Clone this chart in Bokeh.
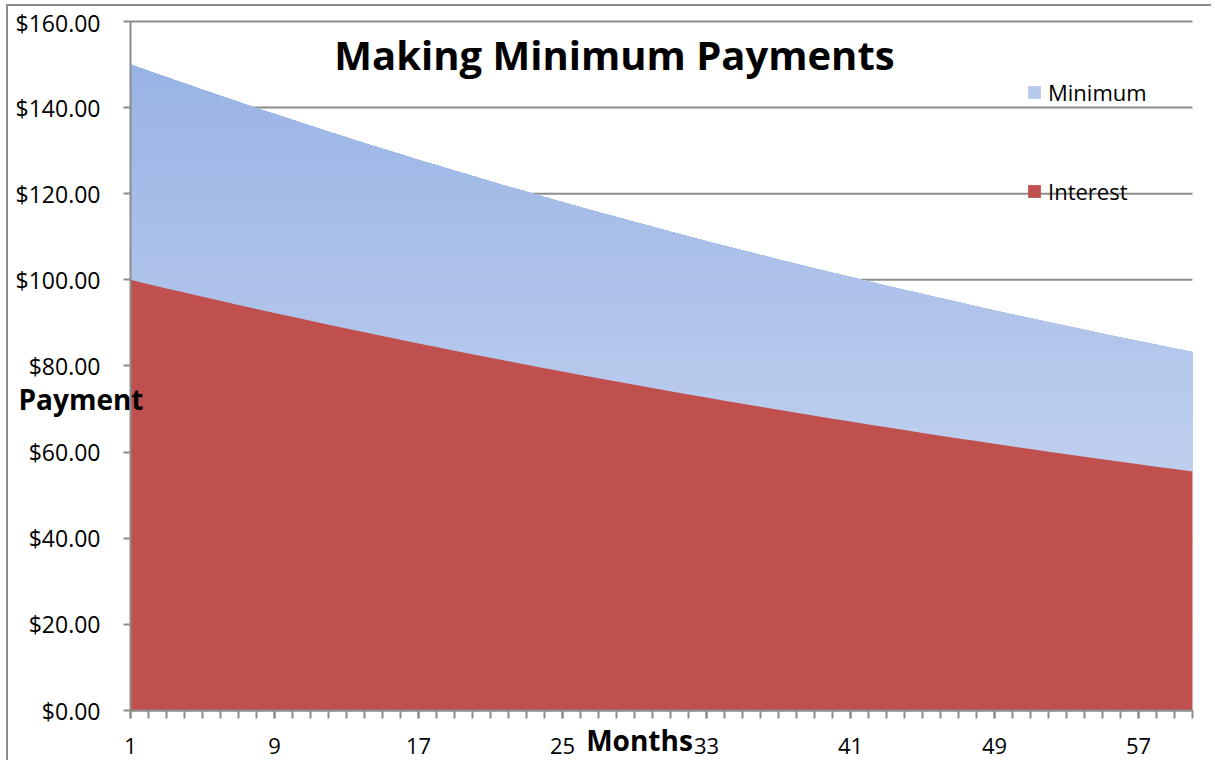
import numpy as np
from bokeh.plotting import figure
from bokeh.models import (Range1d, FixedTicker, NumeralTickFormatter, Label,
                          Legend, LegendItem)
from bokeh.embed import file_html
from bokeh.resources import INLINE

# ---------------- data ----------------
months = list(range(1, 61))

interest = [
    100.00, 99.01, 98.02, 97.05, 96.09, 95.13, 94.19, 93.25, 92.33, 91.41, 90.50,
    89.60, 88.71, 87.83, 86.96, 86.10, 85.24, 84.40, 83.56, 82.73, 81.91,
    81.10, 80.29, 79.49, 78.70, 77.92, 77.15, 76.38, 75.62, 74.87, 74.13,
    73.39, 72.66, 71.94, 71.23, 70.52, 69.82, 69.13, 68.44, 67.76, 67.09,
    66.42, 65.76, 65.11, 64.46, 63.82, 63.19, 62.56, 61.94, 61.32, 60.72,
    60.11, 59.52, 58.93, 58.34, 57.76, 57.19, 56.62, 56.06, 55.50,
]

minimum = [
    150.00, 148.51, 147.03, 145.58, 144.14, 142.70, 141.29, 139.88, 138.50, 137.12, 135.75,
    134.40, 133.07, 131.75, 130.44, 129.15, 127.86, 126.60, 125.34, 124.10, 122.87,
    121.65, 120.44, 119.24, 118.05, 116.88, 115.73, 114.57, 113.43, 112.31, 111.20,
    110.09, 108.99, 107.91, 106.85, 105.78, 104.73, 103.70, 102.66, 101.64, 100.64,
    99.63, 98.64, 97.67, 96.69, 95.73, 94.79, 93.84, 92.91, 91.98, 91.08,
    90.17, 89.28, 88.40, 87.51, 86.64, 85.79, 84.93, 84.09, 83.25,
]

y_tick_values = [0, 20, 40, 60, 80, 100, 120, 140, 160]
x_tick_values = [1, 9, 17, 25, 33, 41, 49, 57]

series_names = ["Minimum", "Interest"]
title_text = "Making Minimum Payments"
y_title = "Payment"
x_title = "Months"

# ---------------- figure ----------------
FONT = "Open Sans"
GRAY = "#8c8c8c"

# The frame covers the whole canvas; the axes sit at fixed data locations
# inside it, so that the titles may overlap the axes as in the reference.
p = figure(width=1205, height=756, output_backend="svg", toolbar_location=None,
           x_range=Range1d(-5.7778, 61.1667), y_range=Range1d(-12.075, 163.48),
           min_border_left=0, min_border_right=0,
           min_border_top=0, min_border_bottom=0)
# outer chart border (left and top edges)
p.styles = {"margin-left": "6px",
            "margin-top": "4px",
            "border-left": "2px solid " + GRAY,
            "border-top": "2px solid " + GRAY}
p.outline_line_color = None
p.background_fill_color = "white"
p.border_fill_color = "white"

x = np.array(months, dtype=float)
lo = np.array(interest, dtype=float)
hi = np.array(minimum, dtype=float)

# horizontal gridlines spanning the category range
p.xgrid.visible = False
p.ygrid.visible = False
p.segment(x0=[months[0]] * len(y_tick_values), x1=[months[-1]] * len(y_tick_values),
          y0=y_tick_values, y1=y_tick_values, line_color=GRAY, line_width=2)

# gradient fill for the Minimum area (darker at top, lighter at bottom)
top_rgb = (152, 179, 228)
bot_rgb = (214, 224, 245)
n_bands = 48
top_val = hi.max()
step = top_val / n_bands
band_renderers = []
for k in range(n_bands):
    a = k * step
    t = (a + step / 2) / top_val
    c = tuple(int(round(b + (tp - b) * t)) for b, tp in zip(bot_rgb, top_rgb))
    color = "#%02x%02x%02x" % c
    y1 = np.minimum(np.maximum(lo, a), hi)
    r = p.varea(x=x, y1=y1, y2=hi, fill_color=color)
    band_renderers.append(r)

red = p.varea(x=x, y1=np.zeros_like(lo), y2=lo, fill_color="#C0504D")

# ---------------- axes ----------------
ya = p.yaxis[0]
ya.fixed_location = months[0]
ya.bounds = (y_tick_values[0], y_tick_values[-1])
ya.ticker = FixedTicker(ticks=y_tick_values, minor_ticks=[])
ya.formatter = NumeralTickFormatter(format="$0.00")
ya.major_label_text_font = FONT
ya.major_label_text_font_size = "23px"
ya.major_label_text_color = "black"
ya.major_tick_out = 7
ya.major_tick_in = 0
ya.minor_tick_out = 0
ya.minor_tick_in = 0
ya.axis_line_color = GRAY
ya.axis_line_width = 2
ya.major_tick_line_color = GRAY
ya.major_tick_line_width = 2
ya.major_label_standoff = 23

xa = p.xaxis[0]
xa.fixed_location = y_tick_values[0]
xa.bounds = (months[0], months[-1])
xa.ticker = FixedTicker(ticks=x_tick_values, minor_ticks=months)
xa.major_label_text_font = FONT
xa.major_label_text_font_size = "22px"
xa.major_label_text_color = "black"
xa.major_tick_out = 8
xa.major_tick_in = 0
xa.minor_tick_out = 8
xa.minor_tick_in = 0
xa.axis_line_color = GRAY
xa.axis_line_width = 2
xa.major_tick_line_color = GRAY
xa.major_tick_line_width = 2
xa.minor_tick_line_color = GRAY
xa.minor_tick_line_width = 2
xa.major_label_standoff = 19

# ---------------- legend ----------------
legend = Legend(items=[LegendItem(label=series_names[0], renderers=[band_renderers[n_bands // 2]]),
                       LegendItem(label=series_names[1], renderers=[red])],
                location=(1018, 556), orientation="vertical",
                glyph_width=16, glyph_height=16, label_height=16, spacing=69,
                padding=0, margin=0, label_standoff=6,
                background_fill_alpha=0, border_line_alpha=0,
                label_text_font=FONT, label_text_font_size="22px",
                label_text_color="black")
p.add_layout(legend)

# ---------------- titles ----------------
p.add_layout(Label(x=606, y=708, x_units="screen", y_units="screen", text=title_text,
                   text_align="center", text_baseline="alphabetic",
                   text_font=FONT, text_font_size="40px", text_font_style="bold",
                   text_color="black"))
p.add_layout(Label(x=10, y=364, x_units="screen", y_units="screen", text=y_title,
                   text_align="left", text_baseline="alphabetic",
                   text_font=FONT, text_font_size="28px", text_font_style="bold",
                   text_color="black"))
p.add_layout(Label(x=631, y=23, x_units="screen", y_units="screen", text=x_title,
                   text_align="center", text_baseline="alphabetic",
                   text_font=FONT, text_font_size="28px", text_font_style="bold",
                   text_color="black"))

open("out.html", "w").write(file_html(p, INLINE))
